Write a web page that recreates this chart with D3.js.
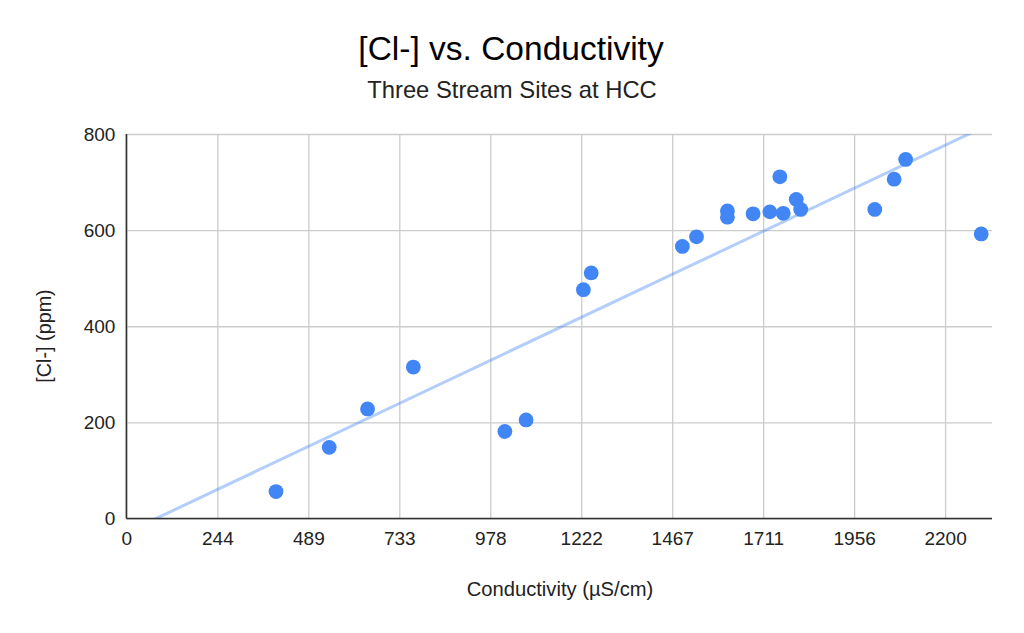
<!DOCTYPE html>
<html>
<head>
<meta charset="utf-8">
<script src="https://cdn.jsdelivr.net/npm/d3@7"></script>
<style>
  html, body { margin: 0; padding: 0; background: #fff; }
  svg { display: block; font-family: Arial, "Liberation Sans", sans-serif; }
</style>
</head>
<body>
<svg id="chart" width="1024" height="633"></svg>
<script>
// Data
const conductivity = [402, 545, 648, 771, 1017, 1074, 1228, 1249, 1494, 1532, 1615, 1615, 1684, 1729, 1756, 1765, 1800, 1812, 2011, 2063, 2094, 2297];
const chloride     = [56, 148, 228, 315, 181, 205, 476, 511, 566, 586, 640, 627, 634, 638, 711, 635, 664, 643, 643, 706, 747, 592];
const xTickValues = [0, 244.44, 488.89, 733.33, 977.78, 1222.22, 1466.67, 1711.11, 1955.56, 2200];
const xTickLabels = ["0", "244", "489", "733", "978", "1222", "1467", "1711", "1956", "2200"];
const yTickValues = [0, 200, 400, 600, 800];
const yTickLabels = ["0", "200", "400", "600", "800"];

const titleText = "[Cl-] vs. Conductivity";
const subtitleText = "Three Stream Sites at HCC";
const xTitle = "Conductivity (µS/cm)";
const yTitle = "[Cl-] (ppm)";

const svg = d3.select("#chart");
const pL = 126.4, pR = 992, pT = 134, pB = 518.5;

const x = d3.scaleLinear().domain([0, 2326]).range([pL, pR]);
const y = d3.scaleLinear().domain([0, 800]).range([pB, pT]);

// Grid lines
const gx = svg.append("g").attr("transform", `translate(0,${pB})`)
  .call(d3.axisBottom(x).tickValues(xTickValues).tickSize(-(pB - pT)).tickFormat(""));
gx.select(".domain").remove();
gx.selectAll(".tick line").attr("stroke", "#cccccc").attr("stroke-width", 1.3);

const gy = svg.append("g").attr("transform", `translate(${pL},0)`)
  .call(d3.axisLeft(y).tickValues(yTickValues).tickSize(-(pR - pL)).tickFormat(""));
gy.select(".domain").remove();
gy.selectAll(".tick line").attr("stroke", "#cccccc").attr("stroke-width", 1.3);

// Tick labels via axes (no lines)
const lx = svg.append("g").attr("transform", `translate(0,${pB})`)
  .call(d3.axisBottom(x).tickValues(xTickValues).tickSize(0).tickPadding(13)
    .tickFormat((d, i) => xTickLabels[i]));
lx.select(".domain").remove();
lx.selectAll("text").attr("font-size", 19).attr("fill", "#222").attr("font-family", "Arial, 'Liberation Sans', sans-serif");

const ly = svg.append("g").attr("transform", `translate(${pL},0)`)
  .call(d3.axisLeft(y).tickValues(yTickValues).tickSize(0).tickPadding(11)
    .tickFormat((d, i) => yTickLabels[i]));
ly.select(".domain").remove();
ly.selectAll("text").attr("font-size", 19).attr("fill", "#222").attr("font-family", "Arial, 'Liberation Sans', sans-serif");

// Trendline (least squares from data)
const n = conductivity.length;
const mx = d3.mean(conductivity), my = d3.mean(chloride);
let sxy = 0, sxx = 0;
for (let i = 0; i < n; i++) { sxy += (conductivity[i] - mx) * (chloride[i] - my); sxx += (conductivity[i] - mx) ** 2; }
const slope = sxy / sxx, intercept = my - slope * mx;

svg.append("clipPath").attr("id", "plotclip").append("rect")
  .attr("x", pL).attr("y", pT).attr("width", pR - pL).attr("height", pB - pT);

svg.append("g").attr("clip-path", "url(#plotclip)")
  .append("line")
  .attr("x1", x(0)).attr("y1", y(intercept))
  .attr("x2", x(2326)).attr("y2", y(intercept + slope * 2326))
  .attr("stroke", "#4285f4").attr("stroke-opacity", 0.4).attr("stroke-width", 3);

// Axis lines
svg.append("line").attr("x1", pL).attr("x2", pR).attr("y1", pB).attr("y2", pB)
  .attr("stroke", "#333").attr("stroke-width", 1.6);
svg.append("line").attr("x1", pL).attr("x2", pL).attr("y1", pT).attr("y2", pB)
  .attr("stroke", "#333").attr("stroke-width", 1.6);

// Points
svg.append("g").selectAll("circle")
  .data(conductivity.map((c, i) => [c, chloride[i]]))
  .join("circle")
  .attr("cx", d => x(d[0])).attr("cy", d => y(d[1])).attr("r", 7.4)
  .attr("fill", "#4285f4");

// Titles
svg.append("text").attr("x", 511).attr("y", 60).attr("text-anchor", "middle")
  .attr("font-size", 33.5).attr("fill", "#000").text(titleText);
svg.append("text").attr("x", 512).attr("y", 98).attr("text-anchor", "middle")
  .attr("font-size", 23.8).attr("fill", "#222").text(subtitleText);
svg.append("text").attr("x", 560).attr("y", 596).attr("text-anchor", "middle")
  .attr("font-size", 20.2).attr("fill", "#222").text(xTitle);
svg.append("text").attr("transform", "translate(51,336) rotate(-90)").attr("text-anchor", "middle")
  .attr("font-size", 19.8).attr("fill", "#222").text(yTitle);
</script>
</body>
</html>
